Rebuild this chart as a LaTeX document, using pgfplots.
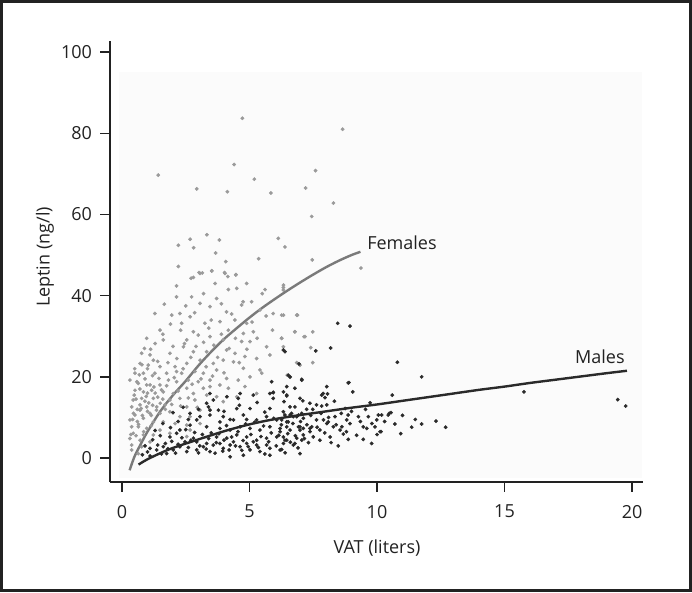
\documentclass[border=0pt]{standalone}
\usepackage{pgfplots}
\pgfplotsset{compat=1.18}
\usepackage{fontspec}
\setmainfont{Open Sans}
\definecolor{fem}{HTML}{9A9A9A}
\definecolor{mal}{HTML}{2A2A2A}
\definecolor{femline}{HTML}{7A7A7A}
\definecolor{axcol}{HTML}{222222}
\begin{document}
\begin{tikzpicture}[x=1pt,y=1pt]
\draw[line width=3pt, color=axcol] (1.5,1.5) rectangle (690.5,590.5);
\begin{axis}[
  at={(110pt,110pt)}, anchor=south west,
  scale only axis, width=533pt, height=441.3pt,
  xmin=-0.47, xmax=20.43, ymin=-5.9, ymax=102.8,
  axis lines*=left,
  axis line style={line width=1.4pt, color=axcol},
  xtick={0,5,10,15,20}, ytick={0,20,40,60,80,100},
  tick align=outside, major tick length=9.5pt,
  tick style={line width=1.3pt, color=axcol},
  ticklabel style={font=\fontsize{18}{21}\selectfont, color=axcol},
  /pgf/number format/assume math mode=true,
  yticklabel style={xshift=-5pt},
  xticklabel style={yshift=-10pt},
  xlabel={VAT (liters)}, ylabel={Leptin (ng/l)},
  label style={font=\fontsize{18}{21}\selectfont, color=axcol},
  xlabel style={at={(axis description cs:0.501,-0.150)}, anchor=center},
  ylabel style={at={(axis description cs:-0.122,0.51)}, anchor=center},
  clip=false,
]
\fill[black!1.5] (axis cs:-0.1,-4.8) rectangle (axis cs:20.4,95);
% Females
\addplot[only marks, mark=*, mark size=1.7pt, color=fem] coordinates {
(4.72,83.7)(8.65,81)(1.42,69.7)(4.40,72.3)(7.59,70.8)(5.19,68.7)(2.93,66.3)(4.13,65.6)(5.84,65.3)(7.20,66.5)(8.29,62.8)(7.44,59.5)(2.21,52.4)(2.67,53.9)(3.33,55.0)(3.82,53.7)(2.81,51.8)(3.67,50.5)(4.07,48.4)(2.21,47.2)(5.36,49.1)(6.13,54.1)(6.39,52.0)(7.46,48.8)(3.02,45.7)(3.15,45.6)(3.52,46.1)(4.02,45.7)(4.46,45.1)(4.15,44.7)(2.71,44.3)(9.37,46.8)
(6.26,35.2)(6.88,35.2)(6.78,31.1)(7.48,31.1)(7.14,29.9)(7.40,27.2)(6.26,29.5)(6.85,23.5)(6.98,22.9)(7.48,23.5)(6.48,20.4)(6.59,19.9)(6.33,42.0)(6.33,41.4)
(3.06,45.5)(3.52,46.1)(4.04,45.5)(4.47,45.2)(2.80,44.5)(3.65,43.0)(4.89,43.0)(6.33,42.6)(2.14,42.4)(4.17,41.5)(4.50,41.8)(5.61,41.5)(2.73,39.7)(3.71,39.3)(2.14,39.7)(3.06,38.1)(1.66,37.9)(4.69,37.7)(5.08,38.5)(3.45,37.3)(5.41,36.5)(5.93,35.6)(4.10,36.0)(2.27,35.6)(1.95,35.2)(2.67,34.8)(1.29,35.6)
(3.25,33.2)(2.34,33.2)(3.84,33.6)(4.43,34.0)(4.89,33.2)(6.33,35.2)(6.85,35.2)(1.49,31.5)(2.80,31.1)(2.99,30.3)(3.45,29.9)(4.17,31.5)(4.76,30.7)(5.15,31.1)(0.97,29.5)(1.62,29.1)(2.54,29.1)(3.97,29.1)(4.69,28.7)(5.02,28.7)(6.26,29.5)(6.78,31.1)(7.18,29.9)(5.67,27.4)(6.33,27.4)(4.10,26.6)(3.32,26.2)(2.41,27.4)(2.80,26.2)
(0.77,25.8)(1.10,25.4)(1.23,24.1)(1.88,25.8)(4.43,25.8)(4.82,25.0)(5.28,24.5)(5.80,25.4)(0.71,23.3)(1.03,22.9)(1.49,22.5)(2.08,22.5)(2.54,23.3)(3.06,24.1)(3.58,23.3)(3.97,24.1)(4.37,23.7)(3.71,21.7)(4.76,22.1)(5.41,21.7)(5.48,20.9)(6.59,20.0)
(0.51,20.9)(0.84,20.9)(1.29,20.9)(1.75,20.9)(2.14,21.3)(2.34,20.9)(2.86,21.3)(3.19,20.9)(3.45,19.2)(4.10,19.6)(4.56,19.2)(5.02,20.0)(0.31,19.2)(0.64,18.4)(0.97,18.0)(1.49,18.0)(1.82,19.2)(2.14,18.8)(2.60,19.2)(2.99,18.8)(2.54,17.2)(3.19,17.2)(3.45,17.6)(3.84,18.0)(4.17,17.2)(4.82,17.6)(5.28,15.9)
(0.51,16.7)(0.84,16.3)(1.16,16.7)(1.62,16.3)(2.01,15.9)(2.80,15.9)(3.32,15.5)(3.71,15.1)(4.50,15.1)(0.44,14.3)(0.77,14.7)(1.23,14.7)(1.88,14.3)(2.27,14.7)(2.86,14.3)(3.97,13.9)(0.38,12.6)(0.71,13.1)(0.97,12.6)(1.36,12.6)(1.69,13.1)(2.54,12.6)(3.06,11.8)(0.71,11.8)(1.10,11.0)(1.49,11.0)(1.88,11.4)(2.27,10.2)(2.67,10.2)(0.51,10.6)
(0.31,9.4)(0.84,9.8)(1.23,8.9)(1.62,8.9)(2.08,8.5)(2.54,8.1)(0.38,7.7)(0.64,7.7)(0.97,7.3)(1.49,6.9)(0.44,6.1)(0.84,5.7)(1.23,5.7)(1.88,6.1)(0.31,4.8)(0.71,4.4)(1.10,4.0)(0.38,3.2)(0.77,2.8)(0.38,2.0)(0.64,1.1)(2.67,6.9)(3.06,8.5)(2.54,5.3)
(0.6,12)(0.9,14)(1.0,16)(1.2,13)(0.8,10.5)(1.1,18)(1.3,16)(0.7,17)(0.55,14.5)(1.4,15)(1.0,11.5)(0.9,19.5)(1.2,20.3)(0.6,9)(1.5,13.5)(0.45,11)(0.85,6.5)(1.15,8)(1.6,14.5)(0.5,22)
(0.55,5.5)(0.65,8.3)(0.75,12.2)(0.95,15.2)(1.05,13.6)(1.15,10.5)(1.25,17.5)(1.35,11.8)(1.45,19.6)(1.55,16.8)(1.7,12)(1.75,17.8)(1.8,23.5)(1.95,13.2)(2.05,19.8)(2.15,24.5)(2.2,16.5)(2.3,12.8)(2.4,22.0)(2.45,28.2)(2.6,14.8)(2.7,24.8)(2.75,18.2)(2.9,27.5)(2.95,12.5)(3.1,19.5)(3.2,28.5)(3.3,22.5)(3.4,32.0)(3.55,20.2)(3.6,27.8)(3.75,24.8)(3.9,30.5)(4.0,21.0)(4.2,27.0)(4.3,35.5)(4.45,29.5)(4.6,23.5)(4.75,38.5)(4.9,26.8)(5.1,33.5)(5.3,29.5)(5.5,40.5)(5.65,35.0)(5.9,31.5)(0.35,5.8)(0.42,9.5)(0.48,15.5)(0.58,18.8)(0.68,20.5)(0.78,23.0)(0.88,27.0)(1.0,22.0)(1.12,26.8)(1.3,28.2)(1.4,23.8)(1.6,30.5)(1.9,33.0)(2.0,27.5)(2.3,31.5)(2.5,37.5)(2.85,35.8)(3.2,40.5)(3.5,34.0)(3.9,38.0)
};
% Males
\addplot[only marks, mark=*, mark size=1.7pt, color=mal] coordinates {
(15.76,16.3)(19.44,14.4)(19.75,12.8)(10.8,23.6)(11.75,20.0)(10.6,15.5)(10.93,6.0)(11.36,7.6)(11.75,8.4)(12.31,9.1)(12.69,7.6)(10.48,11.0)(10.18,10.6)(10.16,6.5)
(8.46,33.2)(8.94,32.5)(8.18,27.1)(7.60,26.4)(7.05,19.4)(8.90,18.6)(9.05,16.3)(8.03,17.6)(7.83,15.5)(7.96,14.9)(8.06,15.8)(8.33,14.0)(6.46,15.3)(6.35,13.9)(7.09,14.1)(6.78,12.6)(7.63,13.1)(7.83,12.8)(7.48,12.0)(7.24,12.0)(8.75,12.2)(9.73,13.6)(6.65,11.0)(6.72,10.2)(6.92,10.6)(7.05,11.0)(6.39,10.6)(6.26,9.4)(6.46,7.7)(6.52,8.9)(6.92,7.7)(6.98,6.9)(7.11,7.3)(7.44,7.7)(7.37,6.5)(7.90,9.4)(8.09,8.9)(8.35,10.2)(8.29,7.7)(8.62,7.7)(8.55,6.9)(8.87,10.6)(8.81,9.4)(8.94,8.5)(9.27,10.2)(9.46,7.7)(9.60,7.3)(9.66,10.2)(9.99,9.4)(10.05,10.6)(10.44,10.6)(10.55,11.2)(9.92,7.7)(10.12,6.5)(9.46,4.6)(9.79,3.6)(8.48,3.0)(8.87,4.6)(8.68,5.9)(8.16,5.2)(7.76,4.4)(7.31,3.8)(7.05,4.4)(6.78,3.6)(6.26,2.1)(6.20,6.5)(6.33,5.2)(6.39,4.4)
(6.39,26.2)(6.94,23.2)(6.52,20.4)(5.93,16.2)(6.46,15.5)(8.87,18.5)
(5.93,16.1)(6.98,14.7)(7.37,13.5)(4.50,12.2)(4.89,9.5)(4.24,9.5)(3.84,8.9)(5.80,12.2)(6.33,11.4)(6.59,10.6)(6.85,10.2)(3.39,12.6)(3.78,11.8)(2.93,9.4)(2.67,8.1)(2.27,6.9)(1.88,5.2)(2.14,6.1)(2.47,4.0)(2.80,4.9)(1.10,2.4)(1.36,2.0)(1.62,2.8)(2.01,2.0)(1.75,1.1)(2.27,2.8)(2.54,1.6)(2.93,2.0)(3.19,2.8)(3.45,1.6)(3.58,3.2)(3.97,2.4)(4.24,3.2)(4.63,2.8)(5.02,2.0)(5.41,1.6)(5.80,2.4)(6.20,2.0)(3.71,5.2)(4.11,4.9)(4.50,5.7)(4.89,5.2)(5.28,4.4)(5.67,4.9)(6.07,5.2)(6.46,4.4)(6.85,4.9)(7.11,5.7)
(3.32,7.7)(3.84,7.3)(4.24,6.9)(4.63,7.7)(5.02,7.3)(5.41,6.9)(5.80,7.7)(6.20,7.3)(6.59,6.9)(6.98,7.7)(7.37,7.3)(7.76,6.9)
(3.97,10.2)(4.37,9.4)(4.76,10.6)(5.28,9.4)(5.67,10.2)(6.07,9.4)(6.46,8.9)(7.11,9.8)(7.63,9.4)(8.03,8.5)
(2.67,11.0)(3.06,10.2)(3.45,10.6)(3.58,14.3)(4.11,15.1)(4.63,15.9)(5.15,15.5)(3.45,15.9)
(5.87,18.8)(6.46,17.6)(7.89,15.9)(8.03,13.1)
(2.93,4.0)(3.32,3.6)(3.84,3.6)(4.37,4.0)(4.89,3.6)(5.28,3.2)(5.67,3.2)(6.33,3.6)(6.72,3.2)
(4.24,0.3)(4.76,0.7)(5.80,0.7)(6.98,1.1)
(1.2,4.5)(1.5,5.5)(1.7,3.6)(1.3,6.8)(0.9,3.0)(1.0,1.5)(1.9,7.5)(2.2,9.0)(2.5,7.0)(2.0,11.2)(2.4,12.5)(1.6,8.5)
(3.32,13.5)(3.45,11.8)(4.56,14.7)(5.02,12.2)(5.80,15.9)(5.93,14.7)(6.33,16.3)(6.78,17.2)(6.59,12.6)(7.05,19.2)(6.33,26.6)(6.59,20.0)
(0.8,0.8)(1.1,0.5)(1.4,3.2)(1.55,1.0)(1.8,2.3)(1.95,4.1)(2.1,1.2)(2.2,3.4)(2.35,5.0)(2.6,2.6)(2.7,4.4)(2.85,6.3)(3.0,1.3)(3.05,3.0)(3.15,5.8)(3.3,2.2)(3.4,4.8)(3.5,6.2)(3.65,1.2)(3.7,3.8)(3.8,6.0)(3.95,1.7)(4.0,4.4)(4.1,8.0)(4.2,2.0)(4.3,5.2)(4.45,3.0)(4.55,6.5)(4.7,1.9)(4.75,4.3)(4.85,8.4)(4.95,2.8)(5.05,5.8)(5.15,4.0)(5.2,8.8)(5.35,2.6)(5.45,5.3)(5.55,7.9)(5.6,1.0)(5.75,4.0)(5.85,6.2)(5.95,9.8)(6.05,3.0)(6.15,5.6)(6.25,8.2)(6.4,1.3)(6.5,6.0)(6.6,3.9)(6.7,8.5)(6.8,5.5)(6.9,2.5)(7.0,9.0)(7.15,4.8)(7.25,8.2)(7.4,10.5)(7.5,5.2)(7.65,7.6)(7.8,11.0)(7.95,6.2)(8.1,10.0)(8.2,3.8)(8.4,8.2)(8.6,11.0)(8.8,6.5)(9.0,11.5)(9.2,5.6)(9.35,9.0)(9.55,12.0)(9.8,8.5)(10.0,5.8)(10.3,9.0)(10.7,8.4)(11.0,10.5)(11.5,9.5)(4.0,11.5)(4.6,13.0)(5.3,13.7)(5.6,11.3)(3.0,12.0)(2.6,9.5)
};
% Female curve
\addplot[smooth, line width=2.4pt, color=femline] coordinates {
(0.3,-3.0)(0.5,0.5)(0.8,4.2)(1.0,6.5)(1.5,11.5)(2.0,15.5)(2.5,19.0)(3.0,22.8)(3.5,26.2)(4.0,29.3)(4.5,32.0)(5.0,34.6)(5.5,37.0)(6.0,39.2)(6.5,41.3)(7.0,43.3)(7.5,45.2)(8.0,47.0)(8.5,48.6)(9.0,50.0)(9.35,50.8)
};
% Male curve
\addplot[smooth, line width=2.4pt, color=mal] coordinates {
(0.65,-1.6)(1,-0.3)(1.5,1.2)(2,2.5)(3,4.6)(4,6.6)(5,8.3)(6,9.6)(7,10.6)(8,11.5)(9,12.4)(10,13.2)(11,14.1)(12,15.0)(13,15.9)(14,16.8)(15,17.6)(16,18.5)(17,19.3)(18,20.1)(19,20.9)(19.8,21.5)
};
\node[anchor=west, inner sep=0pt, font=\fontsize{18}{21}\selectfont, color=axcol] at (axis cs:9.61,53) {Females};
\node[anchor=west, inner sep=0pt, font=\fontsize{18}{21}\selectfont, color=axcol] at (axis cs:17.76,24.9) {Males};
\end{axis}
\end{tikzpicture}
\end{document}
